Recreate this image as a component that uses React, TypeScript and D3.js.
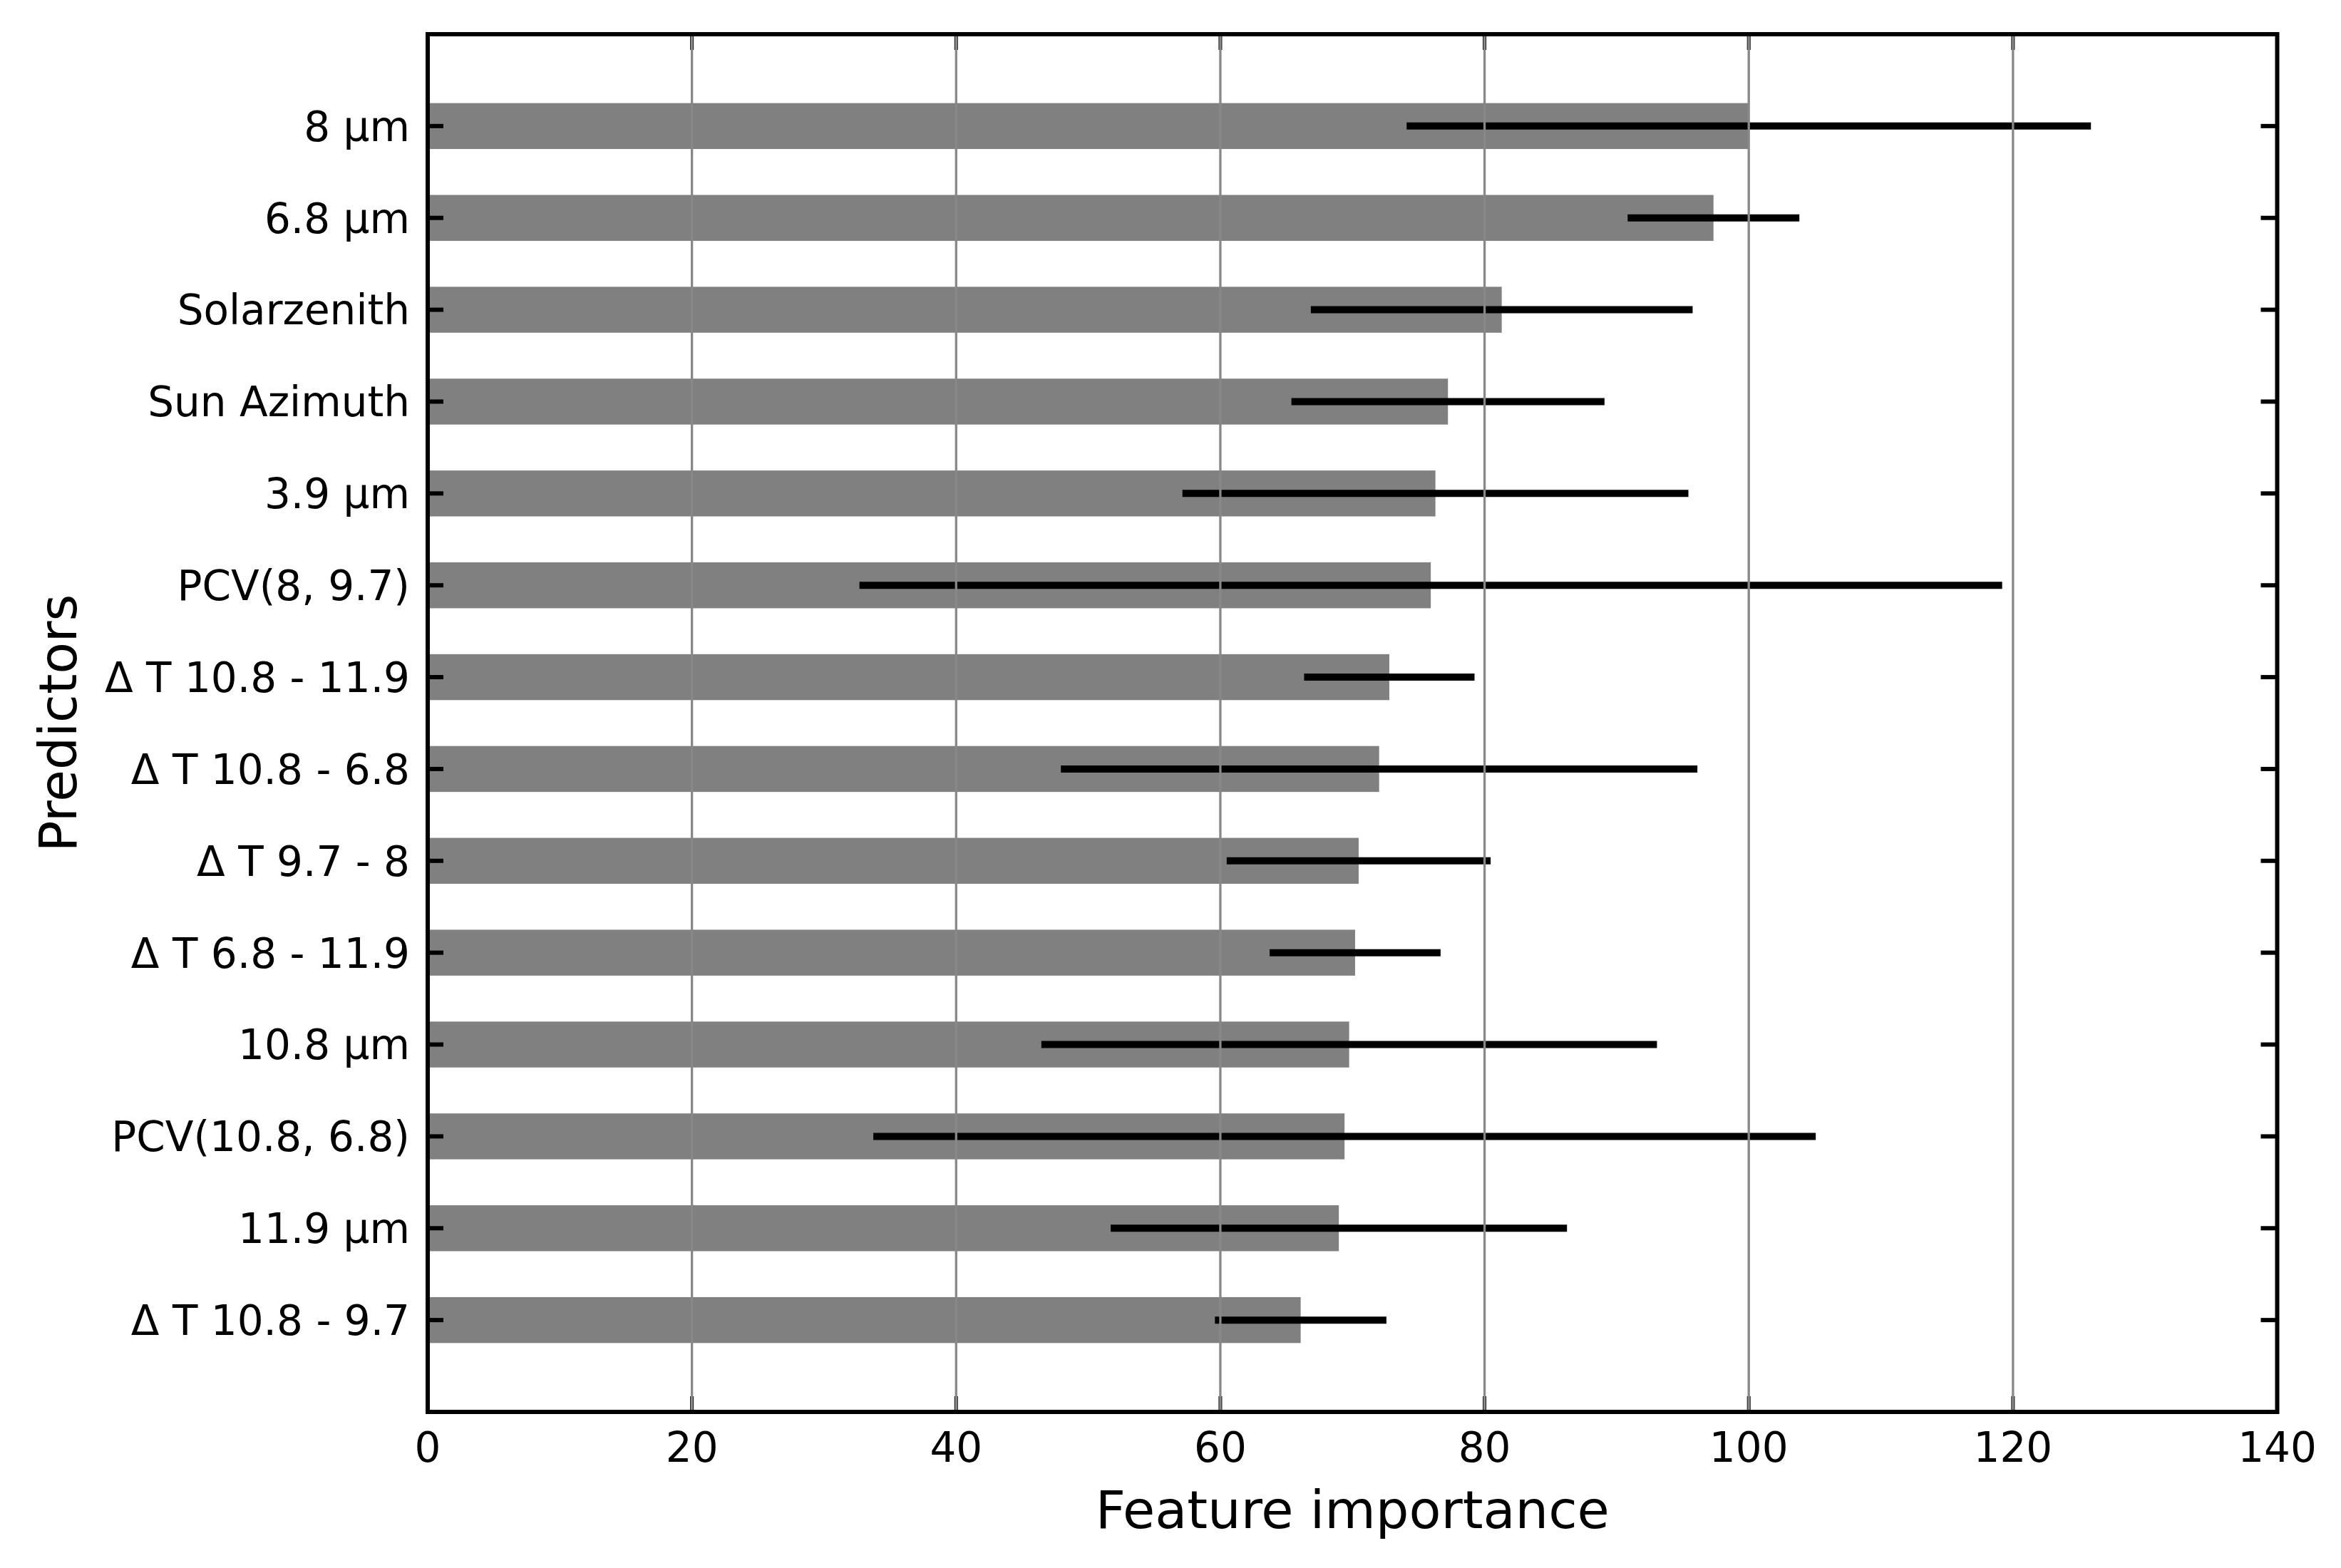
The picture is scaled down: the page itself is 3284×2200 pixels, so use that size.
import React from "react";
import * as d3 from "d3";

const predictors: string[] = [
  "8 µm",
  "6.8 µm",
  "Solarzenith",
  "Sun Azimuth",
  "3.9 µm",
  "PCV(8, 9.7)",
  "Δ T 10.8 - 11.9",
  "Δ T 10.8 - 6.8",
  "Δ T 9.7 - 8",
  "Δ T 6.8 - 11.9",
  "10.8 µm",
  "PCV(10.8, 6.8)",
  "11.9 µm",
  "Δ T 10.8 - 9.7",
];

const importance: number[] = [
  100.0, 97.33, 81.3, 77.23, 76.28, 75.93, 72.79, 72.02, 70.47, 70.2, 69.75, 69.4, 68.97, 66.08,
];

const errors: number[] = [
  25.9, 6.5, 14.45, 11.85, 19.15, 43.25, 6.45, 24.09, 9.99, 6.47, 23.3, 35.67, 17.27, 6.49,
];

const xTicks: number[] = [0, 20, 40, 60, 80, 100, 120, 140];

const W = 3284;
const H = 2200;
const left = 600;
const right = 3194.5;
const top = 48;
const bottom = 1981;
const FONT = "DejaVu Sans, sans-serif";

export default function App() {
  const x = d3.scaleLinear().domain([0, 140]).range([left, right]);
  const y = d3.scaleLinear().domain([-1, predictors.length]).range([top, bottom]);
  const barH = Math.abs(y(0.25) - y(-0.25));

  return (
    <svg
      width={W}
      height={H}
      viewBox={`0 0 ${W} ${H}`}
      style={{ position: "absolute", left: 0, top: 0, background: "#fff" }}
      fontFamily={FONT}
    >
      <rect x={0} y={0} width={W} height={H} fill="#fff" />
      {/* bars */}
      {predictors.map((p, i) => (
        <rect
          key={"bar" + i}
          x={x(0)}
          y={y(i) - barH / 2}
          width={x(importance[i]) - x(0)}
          height={barH}
          fill="#808080"
        />
      ))}
      {/* error bars */}
      {predictors.map((p, i) => (
        <line
          key={"err" + i}
          x1={x(importance[i] - errors[i])}
          x2={x(importance[i] + errors[i])}
          y1={y(i)}
          y2={y(i)}
          stroke="#000"
          strokeWidth={10}
        />
      ))}
      {/* x ticks (inward, top and bottom) */}
      {xTicks.map((t) => (
        <g key={"xt" + t}>
          <line x1={x(t)} x2={x(t)} y1={bottom} y2={bottom - 22} stroke="#000" strokeWidth={5} />
          <line x1={x(t)} x2={x(t)} y1={top} y2={top + 22} stroke="#000" strokeWidth={5} />
        </g>
      ))}
      {/* grid */}
      {xTicks.map((t) => (
        <line
          key={"g" + t}
          x1={x(t)}
          x2={x(t)}
          y1={top}
          y2={bottom}
          stroke="#888888"
          strokeWidth={3.3}
        />
      ))}
      {/* y ticks (inward, left and right) */}
      {predictors.map((p, i) => (
        <g key={"yt" + i}>
          <line x1={left} x2={left + 22} y1={y(i)} y2={y(i)} stroke="#000" strokeWidth={6} />
          <line x1={right} x2={right - 23} y1={y(i)} y2={y(i)} stroke="#000" strokeWidth={6} />
        </g>
      ))}
      {/* spines */}
      <rect
        x={left}
        y={top}
        width={right - left}
        height={bottom - top}
        fill="none"
        stroke="#000"
        strokeWidth={6}
      />
      {/* y tick labels */}
      {predictors.map((p, i) => (
        <text
          key={"yl" + i}
          x={575}
          y={y(i)}
          dy="0.36em"
          textAnchor="end"
          fontSize={58}
          fill="#000"
        >
          {p}
        </text>
      ))}
      {/* x tick labels */}
      {xTicks.map((t) => (
        <text key={"xl" + t} x={x(t)} y={2051} textAnchor="middle" fontSize={58} fill="#000">
          {t}
        </text>
      ))}
      {/* axis labels */}
      <text x={(left + right) / 2} y={2144} textAnchor="middle" fontSize={73.5} fill="#000">
        Feature importance
      </text>
      <text
        transform={`translate(107, ${(top + bottom) / 2}) rotate(-90)`}
        textAnchor="middle"
        fontSize={72.5}
        fill="#000"
      >
        Predictors
      </text>
    </svg>
  );
}
